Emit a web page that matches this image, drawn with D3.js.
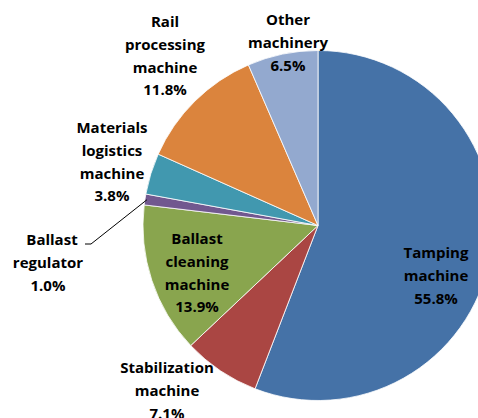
<!DOCTYPE html>
<html><head><meta charset="utf-8">
<script src="https://cdn.jsdelivr.net/npm/d3@7"></script>
<style>body{margin:0;background:#fff;}svg{display:block;}</style>
</head><body>
<svg id="c" width="478" height="418"></svg>
<script>
const categories = ["Tamping machine","Stabilization machine","Ballast cleaning machine","Ballast regulator","Materials logistics machine","Rail processing machine","Other machinery"];
const values = [55.8, 7.1, 13.9, 1.0, 3.8, 11.8, 6.5];
const labelLines = [
  ["Tamping","machine","55.8%"],
  ["Stabilization","machine","7.1%"],
  ["Ballast","cleaning","machine","13.9%"],
  ["Ballast","regulator","1.0%"],
  ["Materials","logistics","machine","3.8%"],
  ["Rail","processing","machine","11.8%"],
  ["Other","machinery","6.5%"]
];
const colors = ["#4572A7","#AA4643","#89A54E","#71588F","#4198AF","#DB843D","#93A9CF"];
// label anchor positions (center x, first line center y)
const labelPos = [[436,253],[167,368],[197,239],[48,240],[112,128],[165,22],[288,20]];

const svg = d3.select("#c");
const cx = 318, cy = 225.5, r = 175;
const pie = d3.pie().sort(null).value(d => d)(values);
const arc = d3.arc().innerRadius(0).outerRadius(r);
const g = svg.append("g").attr("transform", `translate(${cx},${cy})`);
g.selectAll("path").data(pie).join("path")
  .attr("d", arc).attr("fill", (d,i) => colors[i])
  .attr("stroke", "#fff").attr("stroke-width", 0.8);

// leader line for Ballast regulator
const ang = (pie[3].startAngle + pie[3].endAngle)/2;
const ex = cx + Math.sin(ang)*(r-2), ey = cy - Math.cos(ang)*(r-2);
svg.append("path").attr("d", `M85,244 L91,244 L${ex},${ey}`)
  .attr("fill","none").attr("stroke","#000").attr("stroke-width",1);

const lh = 22.7;
labelLines.forEach((lines, i) => {
  const [x, y] = labelPos[i];
  const t = svg.append("text").attr("text-anchor","middle")
    .attr("font-family","'Open Sans', sans-serif").attr("font-weight","bold")
    .attr("font-size","15px").attr("fill","#000");
  lines.forEach((s, j) => {
    let dx = x;
    if (i === 3 && j === 0) dx = 52;
    t.append("tspan").attr("x", dx).attr("y", y + j*lh).attr("dy","0.35em").text(s);
  });
});
</script>
</body></html>
